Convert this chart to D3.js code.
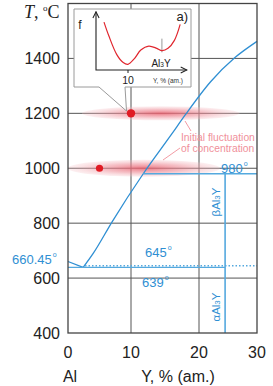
<!DOCTYPE html>
<html><head><meta charset="utf-8">
<script src="https://cdn.jsdelivr.net/npm/d3@7"></script>
<style>
html,body{margin:0;padding:0;background:#fff;}
svg{display:block;font-family:"Liberation Sans",Arial,sans-serif;}
</style></head>
<body>
<svg id="c" width="273" height="386"></svg>
<script>
// ---- data ----
const xTicks = [0, 10, 20, 30];
const yTicks = [400, 600, 800, 1000, 1200, 1400];
const liquidusDesc = [[0, 660.45], [2.4, 639]];
const liquidusRise = [[2.4, 639], [4, 690], [7, 805], [11.8, 980], [16, 1125], [18, 1195], [22, 1315], [26.2, 1403], [30, 1462]];
const eutecticT = 639;
const peritecticT = 645;
const betaT = 980;
const al3yX = 24.5;
const betaStartX = 11.8;
const dottedStartX = 2.7;
const fluctDots = [[10, 1200], [5, 1000]];
const fluctBands = [[2.2, 27, 1200], [0, 23.6, 1000]];
const insetCurve = [[2.5, .84], [4, .6], [6.5, .27], [8.5, .13], [10, .1], [12, .2], [14, .35], [16.5, .42], [19, .38], [20.6, .34], [22.5, .38], [24.5, .52], [26.3, .8]];
const insetTick = 10;
const insetAl3y = 20.6;

// ---- scales ----
const svg = d3.select("#c");
const x = d3.scaleLinear().domain([0, 10, 20, 30]).range([68, 131, 199, 257]);
const y = d3.scaleLinear().domain([400, 1600]).range([333, 3.5]);
const blue = "#2f8fd3", blue2 = "#55a9de", grid = "#555";

// gradient
const defs = svg.append("defs");
const rg = defs.append("radialGradient").attr("id", "pink");
rg.append("stop").attr("offset", "0%").attr("stop-color", "#e8606e").attr("stop-opacity", 0.85);
rg.append("stop").attr("offset", "55%").attr("stop-color", "#ee8d98").attr("stop-opacity", 0.55);
rg.append("stop").attr("offset", "100%").attr("stop-color", "#f5c0c6").attr("stop-opacity", 0.25);

// grid
svg.append("g").selectAll("line").data(xTicks.slice(1, -1)).join("line")
  .attr("x1", d => x(d)).attr("x2", d => x(d)).attr("y1", y(1600)).attr("y2", y(400))
  .attr("stroke", grid).attr("stroke-width", 1);
svg.append("g").selectAll("line").data(yTicks.slice(1)).join("line")
  .attr("x1", x(0)).attr("x2", x(30)).attr("y1", d => y(d)).attr("y2", d => y(d))
  .attr("stroke", grid).attr("stroke-width", 1);

// fluctuation bands
svg.append("g").selectAll("ellipse").data(fluctBands).join("ellipse")
  .attr("cx", d => (x(d[0]) + x(d[1])) / 2).attr("cy", d => y(d[2]))
  .attr("rx", d => (x(d[1]) - x(d[0])) / 2).attr("ry", (d, i) => i ? 8.5 : 7)
  .attr("fill", "url(#pink)");

// phase lines
const line = d3.line().x(d => x(d[0])).y(d => y(d[1]));
svg.append("path").attr("d", line(liquidusDesc)).attr("fill", "none").attr("stroke", blue).attr("stroke-width", 1.3);
svg.append("path").attr("d", line.curve(d3.curveMonotoneX)(liquidusRise)).attr("fill", "none").attr("stroke", blue).attr("stroke-width", 1.3);
svg.append("line").attr("x1", x(0)).attr("x2", x(al3yX)).attr("y1", y(eutecticT)).attr("y2", y(eutecticT)).attr("stroke", blue2).attr("stroke-width", 1.4);
svg.append("line").attr("x1", x(dottedStartX)).attr("x2", x(30)).attr("y1", y(peritecticT)).attr("y2", y(peritecticT)).attr("stroke", blue2).attr("stroke-width", 1.4).attr("stroke-dasharray", "1.5,2");
svg.append("line").attr("x1", x(betaStartX)).attr("x2", x(30)).attr("y1", y(betaT)).attr("y2", y(betaT)).attr("stroke", blue2).attr("stroke-width", 1.6);
svg.append("line").attr("x1", x(al3yX)).attr("x2", x(al3yX)).attr("y1", y(betaT)).attr("y2", y(400)).attr("stroke", blue2).attr("stroke-width", 1.6);

// dots
svg.append("g").selectAll("circle").data(fluctDots).join("circle")
  .attr("cx", d => x(d[0])).attr("cy", d => y(d[1])).attr("r", (d, i) => i ? 3.6 : 4.2).attr("fill", "#e01b24");

// frame
svg.append("rect").attr("x", x(0)).attr("y", y(1600)).attr("width", x(30) - x(0)).attr("height", y(400) - y(1600))
  .attr("fill", "none").attr("stroke", "#444").attr("stroke-width", 1.3);

// tick labels
svg.append("g").selectAll("text").data(yTicks).join("text")
  .attr("x", 60).attr("y", d => y(d)).attr("dy", "0.36em").attr("text-anchor", "end")
  .attr("font-size", 16).attr("fill", "#222").text(d => d);
svg.append("g").selectAll("text").data(xTicks).join("text")
  .attr("x", d => x(d)).attr("y", 358).attr("text-anchor", "middle")
  .attr("font-size", 16).attr("fill", "#222").text(d => d);
svg.append("text").attr("x", 70).attr("y", 382).attr("text-anchor", "middle").attr("font-size", 16).attr("fill", "#222").text("Al");
svg.append("text").attr("x", 178).attr("y", 382).attr("text-anchor", "middle").attr("font-size", 16).attr("fill", "#222").text("Y, % (am.)");

// T, °C
const tl = svg.append("text").attr("x", 24).attr("y", 18).attr("font-family", "'Liberation Serif','Times New Roman',serif").attr("font-size", 18).attr("fill", "#222");
tl.append("tspan").attr("font-style", "italic").text("T");
tl.append("tspan").text(", ");
tl.append("tspan").attr("font-size", 9).attr("dy", -7).text("o");
tl.append("tspan").attr("dy", 7).text("C");

// temperature labels
function degLabel(txt, px, py, anchor) {
  const t = svg.append("text").attr("x", px).attr("y", py).attr("font-size", 13).attr("fill", blue).attr("text-anchor", anchor || "start");
  t.append("tspan").text(txt);
  t.append("tspan").attr("font-size", 7).attr("dy", -7).attr("dx", 1).text("o");
}
degLabel("980", 221, 173);
degLabel("660.45", 12, 264);
degLabel("645", 145, 257);
degLabel("639", 142, 287);

// phase labels (rotated)
function phaseLabel(greek, cx, cy) {
  const t = svg.append("text").attr("transform", `translate(${cx},${cy}) rotate(-90)`)
    .attr("text-anchor", "middle").attr("dy", "0.35em").attr("font-size", 11.5).attr("fill", blue);
  t.append("tspan").text(greek + "Al");
  t.append("tspan").attr("font-size", 8).text("3");
  t.append("tspan").text("Y");
}
phaseLabel("β", 216, 202);
phaseLabel("α", 216, 307);

// annotation
const ann = svg.append("text").attr("font-size", 10.3).attr("fill", "#f0909a");
ann.append("tspan").attr("x", 181).attr("y", 140.5).text("Initial fluctuation");
ann.append("tspan").attr("x", 181).attr("y", 151.5).text("of concentration");
svg.append("line").attr("x1", 191).attr("y1", 131).attr("x2", 185).attr("y2", 121).attr("stroke", "#f0909a").attr("stroke-width", 0.9);
svg.append("line").attr("x1", 180).attr("y1", 148).attr("x2", 163).attr("y2", 160).attr("stroke", "#f0909a").attr("stroke-width", 0.9);

// inset
const ix = d3.scaleLinear().domain([0, 30]).range([96, 192]);
const iy = d3.scaleLinear().domain([0, 1]).range([70, 13]);
svg.append("path").attr("d", "M74,9 H191 V87 H125 L126.5,111 L99,87 H74 Z")
  .attr("fill", "#fff").attr("stroke", "#9a9a9a").attr("stroke-width", 1);
defs.append("marker").attr("id", "arr").attr("viewBox", "0 0 10 10").attr("refX", 9).attr("refY", 5)
  .attr("markerWidth", 7).attr("markerHeight", 7).attr("orient", "auto-start-reverse")
  .append("path").attr("d", "M1,1 L9,5 L1,9").attr("fill", "none").attr("stroke", "#222").attr("stroke-width", 1.4);
svg.append("path").attr("d", `M${ix(0)},${iy(1.02)} V${iy(0)} H${ix(28.4)}`).attr("fill", "none")
  .attr("stroke", "#222").attr("stroke-width", 1.1).attr("marker-start", "url(#arr)").attr("marker-end", "url(#arr)");
svg.append("line").attr("x1", ix(insetTick)).attr("x2", ix(insetTick)).attr("y1", iy(0)).attr("y2", iy(0) + 3).attr("stroke", "#222");
svg.append("line").attr("x1", ix(insetAl3y)).attr("x2", ix(insetAl3y)).attr("y1", iy(.55)).attr("y2", iy(.31)).attr("stroke", "#999").attr("stroke-width", 1);
const il = d3.line().x(d => ix(d[0])).y(d => iy(d[1])).curve(d3.curveCatmullRom);
svg.append("path").attr("d", il(insetCurve)).attr("fill", "none").attr("stroke", "#e0262e").attr("stroke-width", 1.2);
svg.append("text").attr("x", ix(insetTick)).attr("y", 84).attr("text-anchor", "middle").attr("font-size", 10.5).attr("fill", "#222").text(insetTick);
svg.append("text").attr("x", 168).attr("y", 83).attr("text-anchor", "middle").attr("font-size", 6.5).attr("fill", "#333").text("Y, % (am.)");
svg.append("text").attr("x", 80).attr("y", 29).attr("text-anchor", "middle").attr("font-size", 12).attr("fill", "#222").text("f");
svg.append("text").attr("x", 188).attr("y", 21).attr("text-anchor", "end").attr("font-size", 13).attr("fill", "#222").text("a)");
const al = svg.append("text").attr("x", 161).attr("y", 67).attr("text-anchor", "middle").attr("font-size", 10).attr("fill", "#222");
al.append("tspan").text("Al");
al.append("tspan").attr("font-size", 6.5).text("3");
al.append("tspan").text("Y");
</script>
</body></html>
